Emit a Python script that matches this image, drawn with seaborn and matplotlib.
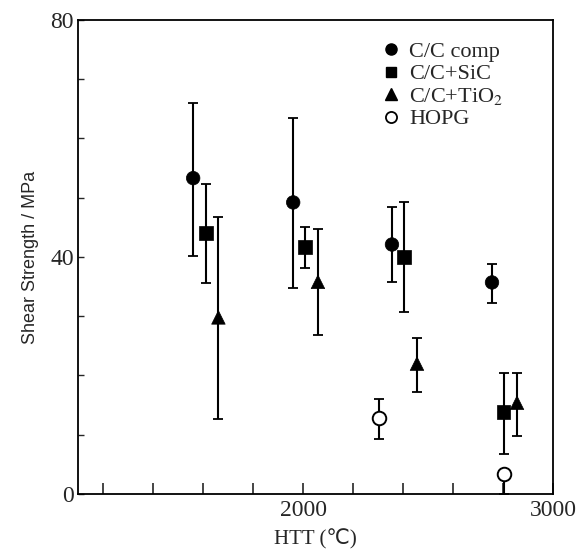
import numpy as np
import pandas as pd
import seaborn as sns
import matplotlib.pyplot as plt
from matplotlib.lines import Line2D

# values (HTT in deg C, shear strength in MPa)
htt_comp = [1560, 1960, 2355, 2755]
comp = [53.3, 49.2, 42.1, 35.7]
comp_hi = [66.0, 63.4, 48.4, 38.8]
comp_lo = [40.2, 34.7, 35.7, 32.2]

htt_sic = [1611, 2008, 2404, 2801]
sic = [44.0, 41.7, 40.0, 13.8]
sic_hi = [52.3, 45.1, 49.2, 20.5]
sic_lo = [35.6, 38.1, 30.7, 6.8]

htt_tio2 = [1661, 2059, 2455, 2855]
tio2 = [29.8, 35.8, 22.0, 15.4]
tio2_hi = [46.8, 44.8, 26.4, 20.4]
tio2_lo = [12.6, 26.8, 17.2, 9.8]

htt_hopg = [2303, 2801]
hopg = [12.8, 3.4]
hopg_hi = [16.0, 3.4]
hopg_lo = [9.3, 0.0]

labels = ['C/C comp', 'C/C+SiC', 'C/C+TiO$_2$', 'HOPG']

series = [
    (labels[0], htt_comp, comp, comp_lo, comp_hi),
    (labels[1], htt_sic, sic, sic_lo, sic_hi),
    (labels[2], htt_tio2, tio2, tio2_lo, tio2_hi),
    (labels[3], htt_hopg, hopg, hopg_lo, hopg_hi),
]

rows = []
for name, xs, ys, los, his in series:
    for x, y, lo, hi in zip(xs, ys, los, his):
        rows.append(dict(sample=name, htt=x, tau=y, lo=lo, hi=hi))
df = pd.DataFrame(rows)

sns.set_style("ticks")
plt.rcParams['font.family'] = ['Liberation Serif', 'DejaVu Sans']
plt.rcParams['mathtext.fontset'] = 'stix'

fig = plt.figure(figsize=(5.83, 5.52), dpi=100)
ax = fig.add_axes([0.134, 0.105, 0.815, 0.859])

# error bars first, markers on top
for name, g in df.groupby('sample', sort=False):
    ax.errorbar(g.htt, g.tau, yerr=[g.tau - g.lo, g.hi - g.tau], fmt='none',
                ecolor='black', elinewidth=1.5, capsize=3.5, capthick=1.3, zorder=2)

markers = {labels[0]: 'o', labels[1]: 's', labels[2]: '^', labels[3]: 'o'}
sns.scatterplot(data=df[df['sample'] != 'HOPG'], x='htt', y='tau', style='sample',
                markers=markers, color='black', s=95, edgecolor='black',
                linewidth=0.5, ax=ax, zorder=3, legend=False)
sub = df[df['sample'] == 'HOPG']
ax.scatter(sub.htt, sub.tau, s=95, facecolor='white', edgecolor='black',
           linewidth=1.4, zorder=3)

# legend built from proxy handles
handles = [
    Line2D([], [], ls='none', marker='o', ms=8, color='black'),
    Line2D([], [], ls='none', marker='s', ms=7.5, color='black'),
    Line2D([], [], ls='none', marker='^', ms=8, color='black'),
    Line2D([], [], ls='none', marker='o', ms=8, mfc='white', mec='black', mew=1.3),
]
ax.legend(handles, labels, loc='upper left', bbox_to_anchor=(0.612, 0.978),
          frameon=False, fontsize=16, borderpad=0, handletextpad=0.3,
          labelspacing=0.08, handlelength=1.0)

ax.set_xlim(1100, 3000)
ax.set_ylim(0, 80)
ax.set_xticks([1200, 1400, 1600, 1800, 2000, 2200, 2400, 2600, 2800, 3000])
ax.set_xticklabels(['', '', '', '', '2000', '', '', '', '', '3000'], fontsize=17)
ax.set_yticks(np.arange(0, 81, 10))
ax.set_yticklabels(['0', '', '', '', '40', '', '', '', '80'], fontsize=17)
ax.tick_params(axis='x', direction='in', length=8, width=1.2, pad=4)
ax.tick_params(axis='y', direction='in', length=4, width=1, pad=3)
for sp in ax.spines.values():
    sp.set_linewidth(1.3)
    sp.set_color('black')

ax.set_xlabel('HTT (\u2103)', fontsize=15, labelpad=6)
ax.set_ylabel('Shear Strength / MPa', fontsize=13, family=['Liberation Sans'],
              labelpad=8)

fig.savefig('out.png', dpi=100)
